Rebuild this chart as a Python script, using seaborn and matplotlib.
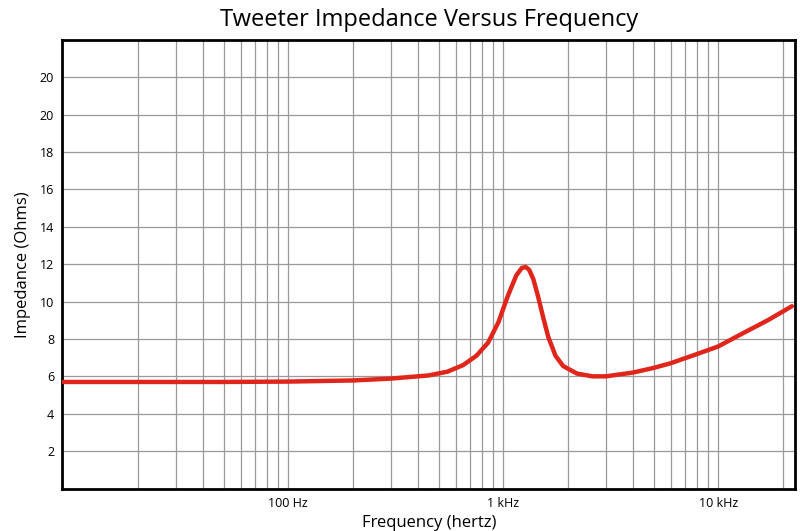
import numpy as np
import matplotlib
matplotlib.use('Agg')
import matplotlib.pyplot as plt
import seaborn as sns
import pandas as pd

sns.set_style('white')
plt.rcParams['font.family'] = 'Open Sans'
plt.rcParams['text.color'] = 'black'
plt.rcParams['axes.labelcolor'] = 'black'
plt.rcParams['xtick.color'] = 'black'
plt.rcParams['ytick.color'] = 'black'

freqHz = [9, 50, 100, 200, 300, 450, 550, 650, 750, 850, 950, 1050, 1150, 1220, 1270, 1320, 1380,
          1450, 1530, 1620, 1750, 1900, 2200, 2600, 3000, 4000, 5000, 6000, 8000, 10000, 13000, 17000, 22000]
impedanceOhms = [5.7, 5.7, 5.72, 5.78, 5.88, 6.05, 6.25, 6.6, 7.1, 7.8, 8.9, 10.3, 11.4, 11.8, 11.85, 11.7, 11.2,
                 10.3, 9.2, 8.1, 7.1, 6.55, 6.15, 6.0, 6.0, 6.2, 6.45, 6.7, 7.2, 7.6, 8.3, 9.0, 9.75]
yTicks = [2, 4, 6, 8, 10, 12, 14, 16, 18, 20, 22]
yTickLabels = ['2', '4', '6', '8', '10', '12', '14', '16', '18', '20', '20']
xTicks = [100, 1000, 10000]
xTickLabels = ['100 Hz', '1 kHz', '10 kHz']

df = pd.DataFrame({'freq': freqHz, 'imp': impedanceOhms})

fig, ax = plt.subplots(figsize=(8, 5.31), dpi=100)
fig.subplots_adjust(left=0.078, right=0.994, top=0.925, bottom=0.08)

ax.set_xscale('log')
ax.set_xlim(8.9, 22800)
ax.set_ylim(0, 24)

# grid: minor log lines from 20 Hz up, horizontal every 2
for dec in [10, 100, 1000, 10000]:
    for m in range(1, 10):
        f = dec * m
        if 15 < f < 22800:
            ax.axvline(f, color='#999999', lw=0.9, zorder=0)
for y in yTicks:
    ax.axhline(y, color='#999999', lw=0.9, zorder=0)

sns.lineplot(data=df, x='freq', y='imp', ax=ax, color='#e0261b', lw=3.2, zorder=3)
ax.lines[-1].set_solid_joinstyle('round')

ax.set_xticks(xTicks)
ax.set_xticklabels(xTickLabels)
ax.xaxis.set_minor_locator(matplotlib.ticker.NullLocator())
ax.set_yticks(yTicks)
ax.set_yticklabels(yTickLabels)
ax.tick_params(labelsize=9, length=0, pad=6)
for s in ax.spines.values():
    s.set_linewidth(2)
    s.set_color('black')

ax.set_xlabel('Frequency (hertz)', fontsize=12, labelpad=4)
ax.set_ylabel('Impedance (Ohms)', fontsize=12, labelpad=6)
ax.set_title('Tweeter Impedance Versus Frequency', fontsize=17, pad=10)

fig.savefig('out.png', dpi=100)
